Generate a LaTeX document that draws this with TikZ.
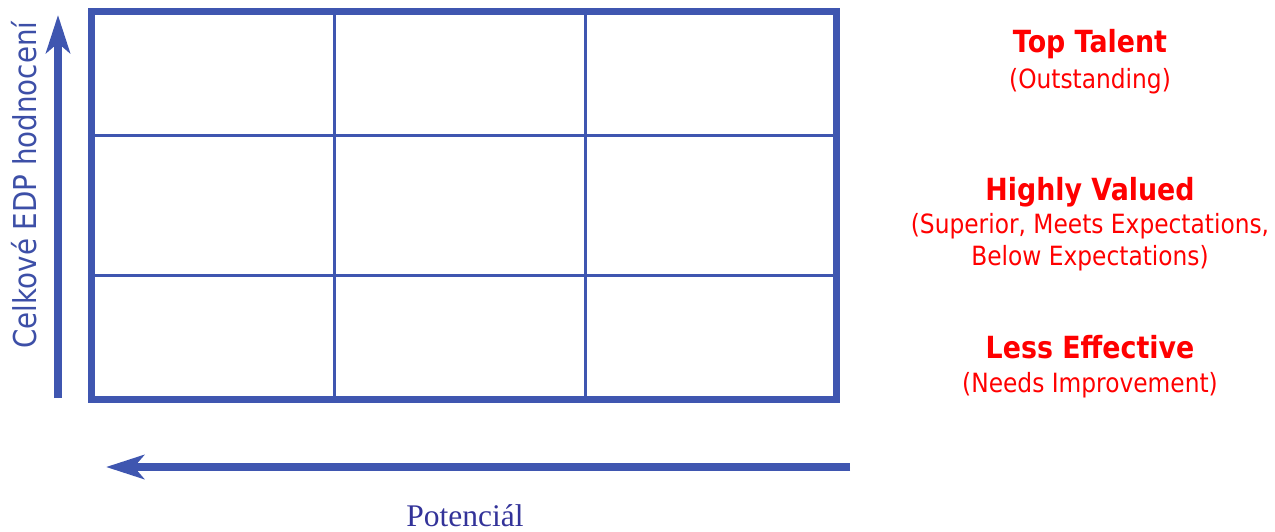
\documentclass[tikz,border=0pt]{standalone}
\usepackage{fontspec}
\setmainfont{DejaVu Sans}[FakeStretch=0.88]
\newfontfamily\serifx{Liberation Serif}
\usetikzlibrary{arrows.meta}
\definecolor{gblue}{RGB}{63,86,176}
\definecolor{lblue}{RGB}{61,79,167}
\definecolor{pblue}{RGB}{51,51,153}
\definecolor{tred}{RGB}{255,0,0}
\tikzset{
  outer/.style={draw=gblue, line width=7pt},
  inner/.style={draw=gblue, line width=3pt},
  axis/.style={draw=gblue, fill=gblue, line width=8pt, -{Stealth[length=38pt,width=24pt,inset=10pt]}},
  head/.style={text=tred, anchor=base, inner sep=0pt, font=\fontsize{30.5}{34}\selectfont\bfseries},
  sub/.style={text=tred, anchor=base, inner sep=0pt, font=\fontsize{26.5}{30}\selectfont},
  ylab/.style={text=lblue, anchor=base, rotate=90, inner sep=0pt, font=\fontsize{31.5}{34}\selectfont},
  xlab/.style={text=pblue, anchor=base, inner sep=0pt, font=\serifx\fontsize{31.5}{34}\selectfont}
}
\begin{document}
\begin{tikzpicture}[x=1pt,y=-1pt]
\useasboundingbox (0,0) rectangle (1275,531);
% grid
\draw[inner] (334,11.5) -- (334,399.5);
\draw[inner] (585,11.5) -- (585,399.5);
\draw[inner] (91.5,135) -- (836,135);
\draw[inner] (91.5,275) -- (836,275);
\draw[outer] (91.5,11.5) rectangle (836,399.5);
% axes
\coordinate (ybot) at (58,398);
\coordinate (ytop) at (58,15);
\coordinate (xr) at (850,467);
\coordinate (xl) at (106,467);
\draw[axis] (ybot) -- (ytop);
\draw[axis] (xr) -- (xl);
% labels
\node[ylab] (yl) at (36,185) {Celkové EDP hodnocení};
\node[xlab] (xlb) at (465,526) {Potenciál};
\node[head] (t1) at (1090,52) {Top Talent};
\node[sub] (t2) at (1090,88) {(Outstanding)};
\node[head] (h1) at (1090,200) {Highly Valued};
\node[sub] (h2) at (1090,233) {(Superior, Meets Expectations,};
\node[sub] (h3) at (1090,265) {Below Expectations)};
\node[head] (l1) at (1090,358) {Less Effective};
\node[sub] (l2) at (1090,392) {(Needs Improvement)};
\end{tikzpicture}
\end{document}
